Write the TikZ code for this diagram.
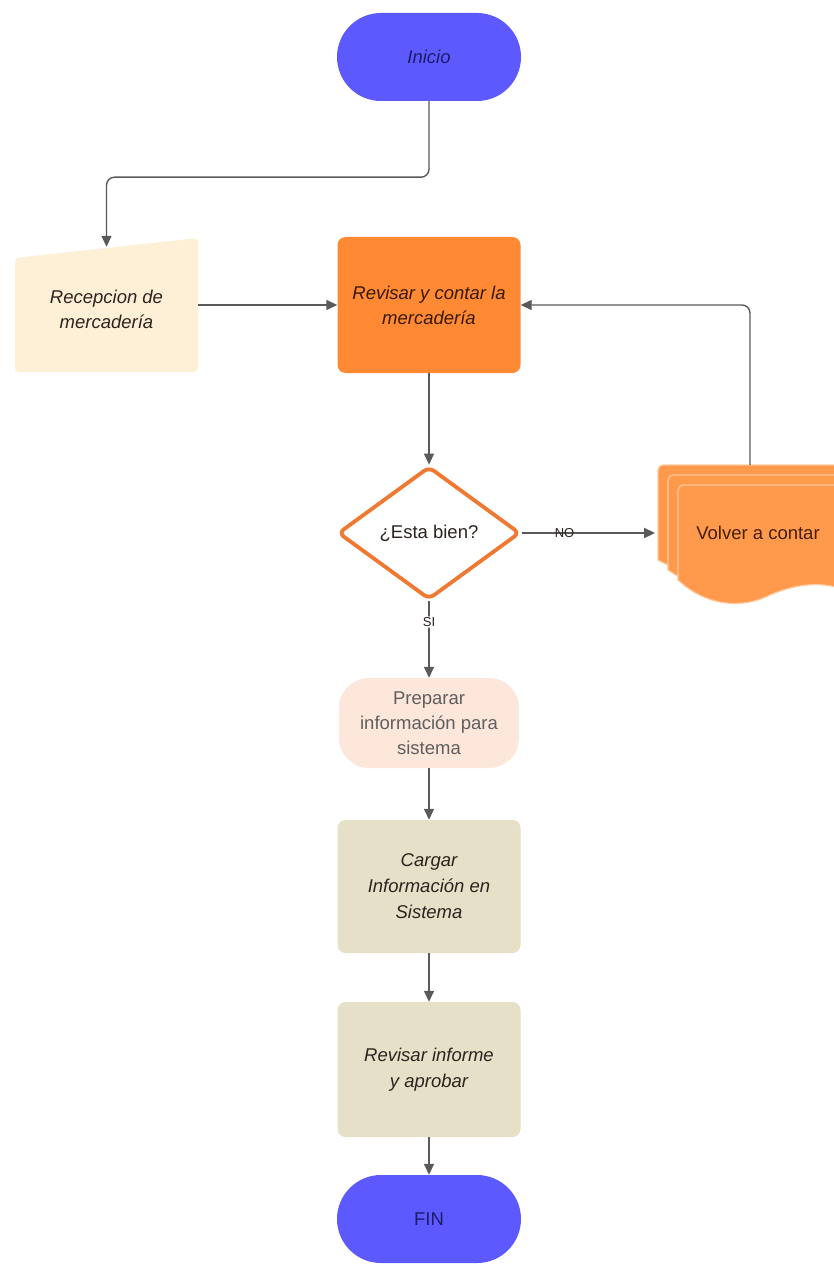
\documentclass[tikz,border=0pt]{standalone}
\usepackage{fontspec}
\setmainfont{Liberation Sans}
\usetikzlibrary{arrows.meta,shapes.geometric}
\definecolor{termblue}{RGB}{92,90,255}
\definecolor{navytext}{RGB}{28,28,105}
\definecolor{recfill}{RGB}{253,240,215}
\definecolor{revfill}{RGB}{255,138,51}
\definecolor{diaedge}{RGB}{240,120,48}
\definecolor{volfill}{RGB}{255,154,77}
\definecolor{voledge}{RGB}{255,200,155}
\definecolor{prepfill}{RGB}{253,230,218}
\definecolor{cargfill}{RGB}{230,224,200}
\definecolor{linegray}{RGB}{90,90,90}
\definecolor{darktext}{RGB}{45,35,30}
\begin{document}
\begin{tikzpicture}[x=1pt,y=-1pt,
  base/.style={font=\fontsize{18.5}{25}\selectfont, align=center, inner sep=0pt},
  term/.style={base, fill=termblue, rounded corners=44pt, minimum width=184pt, minimum height=88pt, text=navytext},
  proc/.style={base, rounded corners=8pt, minimum width=183pt, text=darktext},
  conn/.style={draw=linegray, line width=1.4pt, -{Triangle[length=11pt,width=10pt]}, rounded corners=8pt},
  lbl/.style={font=\fontsize{13}{15}\selectfont, text=darktext, inner sep=1pt}]
\useasboundingbox (0,0) rectangle (834,1265);
\fill[white] (0,0) rectangle (834,1265);

% terminals
\node[term, font=\fontsize{18.5}{25}\selectfont\itshape] (inicio) at (429,57) {Inicio};
\node[term] (fin) at (429,1219) {FIN};

% manual input: Recepcion
\fill[recfill, rounded corners=4pt] (15,258) -- (198,238) -- (198,372) -- (15,372) -- cycle;
\node[base, minimum width=183pt, minimum height=125pt, text=darktext,
      font=\fontsize{18.5}{25}\selectfont\itshape] (rec) at (106.5,309.5) {Recepcion de\\mercadería};

% Revisar y contar
\node[proc, fill=revfill, minimum height=136pt, text={rgb,255:red,55;green,25;blue,0},
      font=\fontsize{18.5}{25}\selectfont\itshape] (revisar) at (429,305) {Revisar y contar la\\mercadería};

% decision
\node[base, shape=diamond, draw=diaedge, line width=3.8pt, fill=white, rounded corners=6pt,
      minimum width=182pt, minimum height=133pt, text=darktext] (dia) at (429,533) {¿Esta bien?};

% multi document: Volver a contar
\begin{scope}
\clip (0,0) rectangle (834,1265);
\foreach \d in {0,10,20}{
  \path[fill=volfill, draw=voledge, line width=1.2pt, rounded corners=5pt]
    (658+\d,465+\d) -- (860,465+\d) -- (860,578+\d) [sharp corners]
    .. controls (830,560+\d) and (800,562+\d) .. (770,575+\d)
    .. controls (740,590+\d) and (705,585+\d) .. (658+\d,560+\d) [rounded corners=5pt] -- cycle;
}
\end{scope}
\node[base, text={rgb,255:red,70;green,30;blue,0}] (volver) at (758,533) {Volver a contar};
\coordinate (vin) at (655,533);
\coordinate (vtop) at (750,465);

% Preparar
\node[base, fill=prepfill, rounded corners=30pt, minimum width=180pt, minimum height=90pt,
      text={rgb,255:red,95;green,95;blue,95}] (prep) at (429,723) {Preparar\\información para\\sistema};

% Cargar / Revisar informe
\node[proc, fill=cargfill, minimum height=133pt, font=\fontsize{18.5}{26}\selectfont\itshape]
  (cargar) at (429,886.5) {Cargar\\Información en\\Sistema};
\node[proc, fill=cargfill, minimum height=135pt, font=\fontsize{18.5}{26}\selectfont\itshape]
  (informe) at (429,1069.5) {Revisar informe\\y aprobar};

% connectors
\draw[conn] (inicio.south) -- ++(0,76) -| (rec.north);
\draw[conn] (rec.east |- revisar.west) -- (revisar.west);
\draw[conn] (revisar.south) -- (dia.north);
\draw[conn, line width=2.2pt] (dia.east) -- node[lbl, pos=0.32] {NO} (vin);
\draw[conn] (vtop) |- (revisar.east);
\draw[conn] (dia.south) -- node[lbl, pos=0.27, fill=white] {SI} (prep.north);
\draw[conn] (prep.south) -- (cargar.north);
\draw[conn] (cargar.south) -- (informe.north);
\draw[conn] (informe.south) -- (fin.north);
\end{tikzpicture}
\end{document}
